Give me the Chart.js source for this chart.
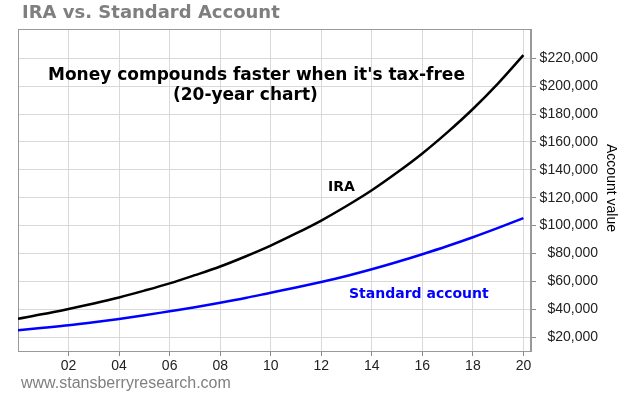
<!DOCTYPE html>
<html>
<head>
<meta charset="utf-8">
<script src="https://cdn.jsdelivr.net/npm/chart.js@4/dist/chart.umd.min.js"></script>
<style>
  html, body { margin: 0; padding: 0; background: #fff; }
</style>
</head>
<body>
<canvas id="myChart" width="620" height="395"></canvas>
<script>
// years since start
const years = [0, 1, 2, 3, 4, 5, 6, 7, 8, 9, 10, 11, 12, 13, 14, 15, 16, 17, 18, 19, 20];
const iraValues = [33200, 36500, 40200, 44100, 48400, 53300, 58500, 64400, 70600, 77800, 85600,
                   94300, 103600, 114000, 125300, 138000, 151700, 167000, 183600, 202000, 222200];
const standardValues = [24800, 26600, 28400, 30600, 33000, 35600, 38500, 41400, 44600, 48000, 51800,
                        55500, 59500, 63800, 68600, 73800, 79400, 85300, 91600, 98300, 105300];

const xTicks = [2, 4, 6, 8, 10, 12, 14, 16, 18, 20];
const xTickLabels = ['02', '04', '06', '08', '10', '12', '14', '16', '18', '20'];
const yTicks = [20000, 40000, 60000, 80000, 100000, 120000, 140000, 160000, 180000, 200000, 220000];
const yTickLabels = ['$20,000', '$40,000', '$60,000', '$80,000', '$100,000', '$120,000',
                     '$140,000', '$160,000', '$180,000', '$200,000', '$220,000'];

const toPoints = (vals) => years.map((yr, i) => ({ x: yr, y: vals[i] }));

// texts and plot frame
const extras = {
  id: 'extras',
  beforeDraw(chart) {
    const c = chart.ctx;
    c.save();
    c.fillStyle = '#fff';
    c.fillRect(0, 0, chart.width, chart.height);
    c.restore();
  },
  beforeDatasetsDraw(chart) {
    const c = chart.ctx, a = chart.chartArea;
    c.save();
    c.strokeStyle = '#999';
    c.lineWidth = 1;
    c.strokeRect(a.left + 0.5, a.top + 0.5, a.right - a.left - 1, a.bottom - a.top);
    c.restore();
  },
  afterDraw(chart) {
    const c = chart.ctx;
    c.save();
    c.textBaseline = 'middle';
    c.textAlign = 'left';

    c.fillStyle = '#7f7f7f';
    c.font = 'bold 18px "DejaVu Sans"';
    c.fillText('IRA vs. Standard Account', 22, 13);

    c.fillStyle = '#000';
    c.font = 'bold 17px "DejaVu Sans"';
    c.fillText("Money compounds faster when it's tax-free", 48, 76);
    c.fillText('(20-year chart)', 173, 96);

    c.font = 'bold 14px "DejaVu Sans"';
    c.fillText('IRA', 328, 187);
    c.fillStyle = '#0000ff';
    c.fillText('Standard account', 349, 294);

    c.fillStyle = '#808080';
    c.font = '16px "Liberation Sans"';
    c.fillText('www.stansberryresearch.com', 21, 384);

    c.fillStyle = '#000';
    c.font = '14px "Liberation Sans"';
    c.translate(611, 188);
    c.rotate(Math.PI / 2);
    c.textAlign = 'center';
    c.fillText('Account value', 0, 0);
    c.restore();
  }
};

const ctx = document.getElementById('myChart').getContext('2d');
const chart = new Chart(ctx, {
  type: 'line',
  data: {
    datasets: [{
      label: 'IRA',
      data: toPoints(iraValues),
      borderColor: '#000',
      borderWidth: 2.5,
      pointRadius: 0,
      cubicInterpolationMode: 'monotone'
    }, {
      label: 'Standard account',
      data: toPoints(standardValues),
      borderColor: '#0000ff',
      borderWidth: 2.5,
      pointRadius: 0,
      cubicInterpolationMode: 'monotone'
    }]
  },
  options: {
    responsive: false,
    animation: false,
    layout: { padding: { left: 18, top: 29, right: 22, bottom: 14 } },
    plugins: {
      legend: { display: false },
      tooltip: { enabled: false }
    },
    scales: {
      x: {
        type: 'linear',
        min: 0,
        max: 20.3,
        afterBuildTicks: (s) => { s.ticks = xTicks.map(v => ({ value: v })); },
        afterFit: (s) => { s.height = 30; },
        grid: { color: '#d9d9d9', tickColor: '#888', tickLength: 5 },
        border: { color: '#999' },
        ticks: {
          padding: 2,
          maxRotation: 0,
          color: '#222',
          font: { family: 'Liberation Sans', size: 14 },
          callback: (v, i) => xTickLabels[i]
        }
      },
      y: {
        position: 'right',
        min: 10000,
        max: 241000,
        afterBuildTicks: (s) => { s.ticks = yTicks.map(v => ({ value: v })); },
        afterFit: (s) => { s.width = 67; },
        grid: { color: '#d9d9d9', tickColor: '#888', tickLength: 5 },
        border: { color: '#999' },
        ticks: {
          crossAlign: 'far',
          color: '#222',
          font: { family: 'Liberation Sans', size: 14 },
          callback: (v, i) => yTickLabels[i]
        }
      }
    }
  },
  plugins: [extras]
});
</script>
</body>
</html>
